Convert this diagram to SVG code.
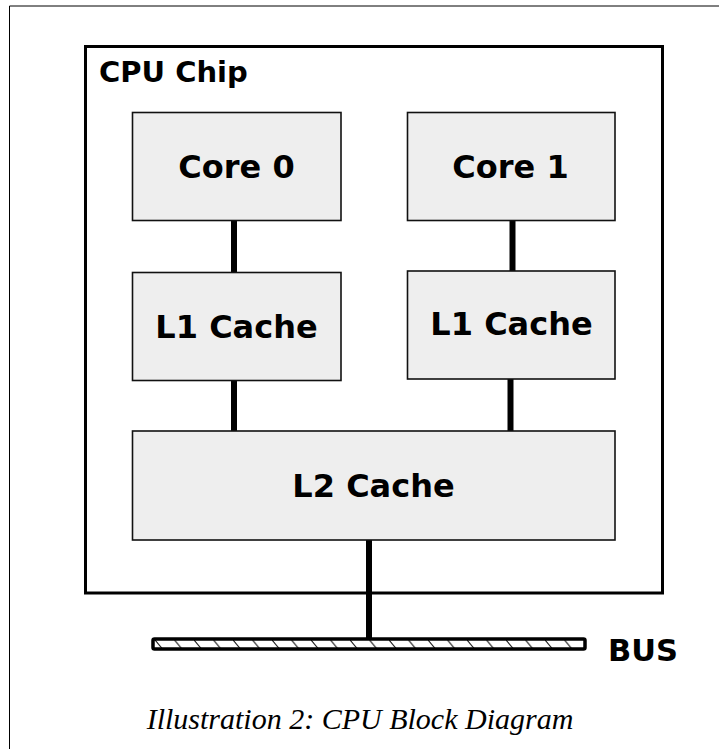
<svg xmlns="http://www.w3.org/2000/svg" width="719" height="749" viewBox="0 0 719 749">
<style>
.box{fill:#eeeeee;stroke:#111;stroke-width:1.6}
.lbl{font-family:"DejaVu Sans",sans-serif;font-weight:bold;fill:#000;text-anchor:middle}
.conn{stroke:#000;stroke-width:6;fill:none}
</style>
<defs>
<pattern id="hatch" patternUnits="userSpaceOnUse" x="155" y="640" width="19.5" height="9">
<path d="M0,0 L7.5,9" stroke="#000" stroke-width="1" fill="none"/>
</pattern>
</defs>
<rect width="719" height="749" fill="#fff"/>
<path d="M9.5,749 V6 H719" fill="none" stroke="#000" stroke-width="1"/>
<g id="chip">
<rect x="85.5" y="46.5" width="577" height="546.5" fill="#fff" stroke="#000" stroke-width="3"/>
<text x="99" y="82" font-family="DejaVu Sans, sans-serif" font-weight="bold" font-size="29" fill="#000">CPU Chip</text>
</g>
<g id="connectors">
<line class="conn" x1="234" y1="220" x2="234" y2="272"/>
<line class="conn" x1="512.5" y1="220" x2="512.5" y2="271"/>
<line class="conn" x1="234" y1="380" x2="234" y2="431"/>
<line class="conn" x1="510.5" y1="379" x2="510.5" y2="431"/>
<line class="conn" x1="369" y1="540" x2="369" y2="639"/>
</g>
<g id="core0">
<rect class="box" x="132.5" y="112.5" width="208.5" height="108"/>
<text class="lbl" x="236.5" y="178" font-size="32">Core 0</text>
</g>
<g id="core1">
<rect class="box" x="407.5" y="112.5" width="207.5" height="108"/>
<text class="lbl" x="510.5" y="178" font-size="32">Core 1</text>
</g>
<g id="l1a">
<rect class="box" x="132.5" y="272.5" width="208.5" height="108"/>
<text class="lbl" x="236.5" y="338" font-size="32">L1 Cache</text>
</g>
<g id="l1b">
<rect class="box" x="407.5" y="271" width="207.5" height="108"/>
<text class="lbl" x="511.5" y="335" font-size="32">L1 Cache</text>
</g>
<g id="l2">
<rect class="box" x="132.5" y="431" width="482.5" height="109"/>
<text class="lbl" x="373.5" y="497" font-size="32">L2 Cache</text>
</g>
<g id="bus">
<rect x="153" y="639" width="432" height="10" rx="1.5" fill="url(#hatch)" stroke="#000" stroke-width="3.5"/>
<text x="608" y="661" font-family="DejaVu Sans, sans-serif" font-weight="bold" font-size="30.5" fill="#000">BUS</text>
</g>
<text x="360" y="729" font-family="Liberation Serif, serif" font-style="italic" font-size="30" text-anchor="middle" fill="#000">Illustration 2: CPU Block Diagram</text>
</svg>
